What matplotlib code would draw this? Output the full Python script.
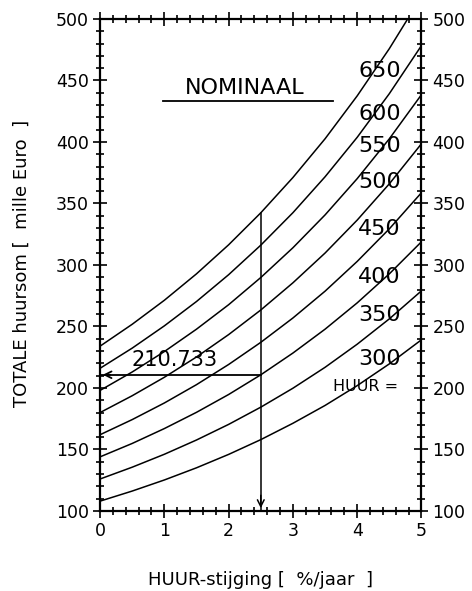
import matplotlib
matplotlib.use("Agg")
import matplotlib.pyplot as plt
from matplotlib.ticker import MultipleLocator

plt.rcParams['font.family'] = ['DejaVu Sans']

# rent increase per year (%)
growth = [0.0, 0.5, 1.0, 1.5, 2.0, 2.5, 3.0, 3.5, 4.0, 4.5, 5.0]

# total rent paid (thousand euro) for each monthly rent level
rent_levels = [300, 350, 400, 450, 500, 550, 600, 650]
total_300 = [108.0, 116.2, 125.2, 135.1, 146.0, 158.0, 171.3, 185.8, 201.9, 219.6, 239.2]
total_350 = [126.0, 135.6, 146.1, 157.7, 170.4, 184.4, 199.8, 216.8, 235.6, 256.2, 279.0]
total_400 = [144.0, 154.9, 167.0, 180.2, 194.7, 210.7, 228.4, 247.8, 269.2, 292.8, 318.9]
total_450 = [162.0, 174.3, 187.8, 202.7, 219.1, 237.1, 256.9, 278.7, 302.9, 329.4, 358.8]
total_500 = [180.0, 193.7, 208.7, 225.2, 243.4, 263.4, 285.5, 309.7, 336.5, 366.0, 398.6]
total_550 = [198.0, 213.0, 229.6, 247.8, 267.7, 289.8, 314.0, 340.7, 370.2, 402.6, 438.5]
total_600 = [216.0, 232.4, 250.5, 270.3, 292.1, 316.1, 342.5, 371.7, 403.8, 439.3, 478.4]
total_650 = [234.0, 251.8, 271.3, 292.8, 316.4, 342.4, 371.1, 402.6, 437.5, 475.9, 518.2]
totals = [total_300, total_350, total_400, total_450,
          total_500, total_550, total_600, total_650]

# label anchor heights for each curve label
label_y = [223.6, 259.0, 290.0, 329.0, 367.5, 396.7, 422.8, 457.7]

# worked example: 2.5 %/jaar, rent 400
example_x = 2.5
example_value = 210.733
example_top = 342.4

x_ticks = [0, 1, 2, 3, 4, 5]
y_ticks = [100, 150, 200, 250, 300, 350, 400, 450, 500]

fig = plt.figure(figsize=(4.72, 5.91), dpi=100)
ax = fig.add_axes([0.212, 0.1354, 0.681, 0.8325])

for tot in totals:
    ax.plot(growth, tot, color='black', lw=1.1)

for lvl, ly in zip(rent_levels, label_y):
    ax.text(4.35, ly, str(lvl), fontsize=16, ha='center', va='center',
            color='black')

ax.text(4.13, 201.6, 'HUUR =', fontsize=11.5, ha='center', va='center')

# title with underline
ax.text(2.25, 444, 'NOMINAAL', fontsize=16, ha='center', va='center')
ax.plot([0.98, 3.62], [433.3, 433.3], color='black', lw=1.3)

# worked example lines with arrows
ax.plot([example_x, example_x], [example_top, 101], color='black', lw=1.1)
ax.annotate('', xy=(example_x, 100), xytext=(example_x, 115),
            arrowprops=dict(arrowstyle='->', color='black', lw=1.1,
                            mutation_scale=12))
ax.plot([example_x, 0.02], [example_value, example_value], color='black', lw=1.3)
ax.annotate('', xy=(0, example_value), xytext=(0.2, example_value),
            arrowprops=dict(arrowstyle='->', color='black', lw=1.3,
                            mutation_scale=12))
ax.text(1.16, 222.8, f'{example_value:.3f}', fontsize=15, ha='center',
        va='center')

ax.set_xlim(0, 5)
ax.set_ylim(100, 500)
ax.set_xticks(x_ticks)
ax.set_yticks(y_ticks)
ax.xaxis.set_minor_locator(MultipleLocator(0.2))
ax.yaxis.set_minor_locator(MultipleLocator(10))
ax.tick_params(which='both', direction='inout', top=True, right=True,
               labelright=True, labelsize=12.5, width=1.2, pad=3)
ax.tick_params(which='major', length=10)
ax.tick_params(which='minor', length=6)
for sp in ax.spines.values():
    sp.set_linewidth(1.6)

fig.text(260 / 472, 1 - 580 / 591, 'HUUR-stijging [  %/jaar  ]', fontsize=13,
         ha='center', va='center')
fig.text(22 / 472, 1 - 263 / 591, 'TOTALE huursom [  mille Euro  ]',
         fontsize=13, ha='center', va='center', rotation=90)

fig.savefig('out.png', dpi=100)
